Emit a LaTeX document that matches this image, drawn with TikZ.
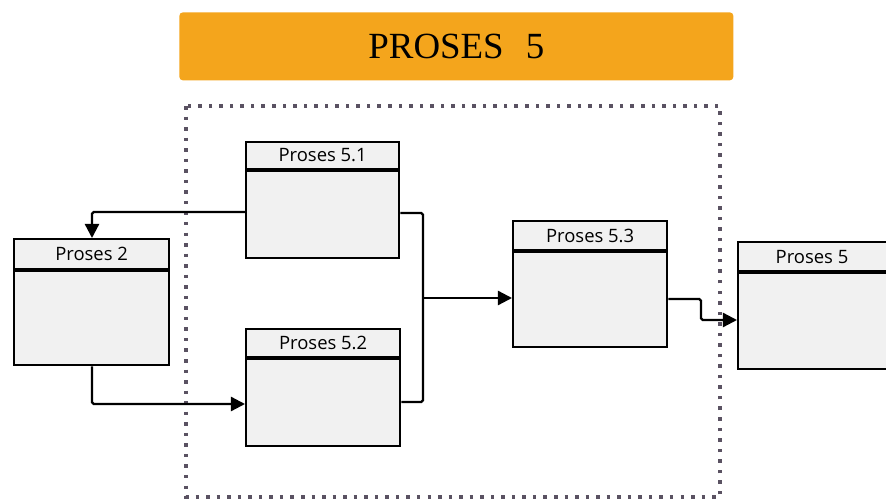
\documentclass[tikz,border=0pt]{standalone}
\usepackage{fontspec}
\setmainfont{Liberation Serif}
\newfontfamily\boxfont{Open Sans}
\usetikzlibrary{arrows.meta,calc}
\definecolor{titleor}{HTML}{F4A51C}
\definecolor{boxfill}{HTML}{F1F1F1}
\definecolor{dotcol}{HTML}{5A5262}
\tikzset{
  procbox/.style={draw=black, line width=1.3pt, fill=boxfill, anchor=north west, inner sep=0pt},
  headtext/.style={font=\boxfont\fontsize{10.5}{12}\selectfont, inner sep=0pt},
  divider/.style={line width=1.9pt},
  conn/.style={line width=1.3pt, rounded corners=1pt},
  arr/.style={conn, -{Triangle[length=8pt,width=8pt]}},
  frame/.style={draw=dotcol, line width=2pt, dash pattern=on 2pt off 4pt}
}
\begin{document}
\begin{tikzpicture}[x=0.02cm,y=-0.02cm]
\useasboundingbox (0,0) rectangle (886,500);
\clip (0,0) rectangle (886,500);
% title
\node[fill=titleor, rounded corners=2pt, minimum width=554*0.02cm, minimum height=68*0.02cm, anchor=north west, inner sep=0pt] (title) at (179,12) {};
\node[font=\fontsize{21}{25}\selectfont] (titletext) at (title.center) {PROSES\hspace{0.6em}5};
% dotted frame
\draw[frame] (186,106) rectangle (720,497);
% boxes
\node[procbox, minimum width=3.06cm, minimum height=2.32cm] (p51) at (245,141) {};
\node[headtext] (h51) at ($(p51.north)+(0,14.5)$) {Proses 5.1};
\draw[divider] ($(p51.north west)+(0,29)$) -- ($(p51.north east)+(0,29)$);

\node[procbox, minimum width=3.10cm, minimum height=2.52cm] (p2) at (13,238) {};
\node[headtext] (h2) at ($(p2.north)+(0,16)$) {Proses 2};
\draw[divider] ($(p2.north west)+(0,32)$) -- ($(p2.north east)+(0,32)$);

\node[procbox, minimum width=3.08cm, minimum height=2.34cm] (p52) at (245,328) {};
\node[headtext] (h52) at ($(p52.north)+(0,15)$) {Proses 5.2};
\draw[divider] ($(p52.north west)+(0,30)$) -- ($(p52.north east)+(0,30)$);

\node[procbox, minimum width=3.08cm, minimum height=2.52cm] (p53) at (512,220) {};
\node[headtext] (h53) at ($(p53.north)+(0,16)$) {Proses 5.3};
\draw[divider] ($(p53.north west)+(0,31)$) -- ($(p53.north east)+(0,31)$);

\node[procbox, minimum width=3.2cm, minimum height=2.54cm] (p5) at (737,241) {};
\node[headtext] (h5) at (812,257) {Proses 5};
\draw[divider] ($(p5.north west)+(0,31)$) -- ($(p5.north east)+(0,31)$);

% connectors
\coordinate (a1) at (92,212);
\draw[arr] (p51.west |- a1) -- (a1) -- (a1 |- p2.north);
\coordinate (a2) at (92,404);
\draw[arr] (a2 |- p2.south) -- (a2) -- (a2 -| p52.west);
\coordinate (j1) at (423,213);
\coordinate (j2) at (423,402);
\coordinate (j) at (423,298);
\draw[conn] (p51.east |- j1) -- (j1) -- (j2) -- (p52.east |- j2);
\draw[arr] (j) -- (j -| p53.west);
\coordinate (b1) at (701,299);
\coordinate (b2) at (701,320);
\draw[arr] (p53.east |- b1) -- (b1) -- (b2) -- (b2 -| p5.west);
\end{tikzpicture}
\end{document}
